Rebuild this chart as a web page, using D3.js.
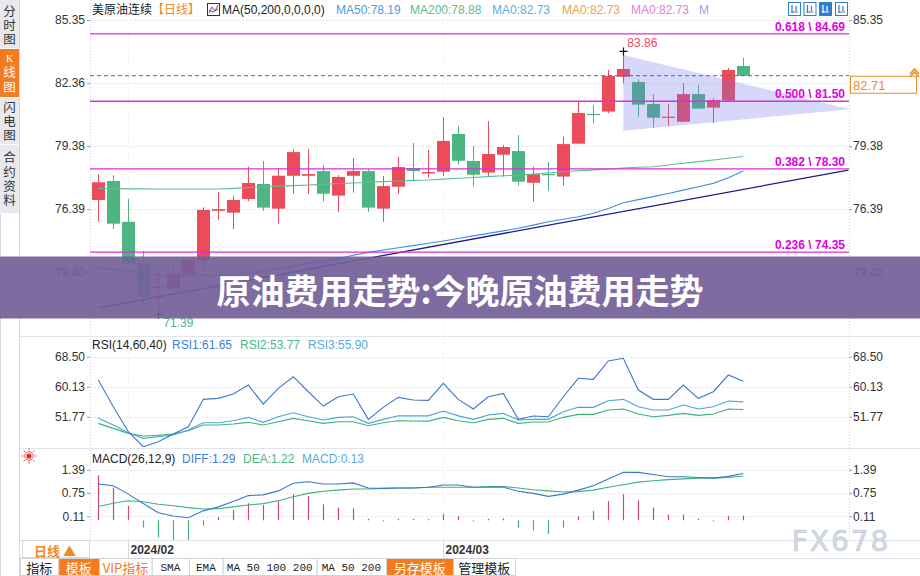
<!DOCTYPE html>
<html>
<head>
<meta charset="utf-8">
<script src="https://cdn.jsdelivr.net/npm/d3@7"></script>
<style>
  body { margin: 0; background: #fff; }
  svg { display: block; font-family: "Liberation Sans", Arial, "Noto Sans CJK SC", sans-serif; }
  .vtab { writing-mode: vertical-rl; text-orientation: upright; }
</style>
</head>
<body>
<div id="chart"></div>
<script>
// trading days shown on the chart
const dates = ["2024-01-30","2024-01-31","2024-02-01","2024-02-02","2024-02-05","2024-02-06","2024-02-07","2024-02-08","2024-02-09",
  "2024-02-12","2024-02-13","2024-02-14","2024-02-15","2024-02-16","2024-02-19","2024-02-20","2024-02-21","2024-02-22","2024-02-23",
  "2024-02-26","2024-02-27","2024-02-28","2024-02-29","2024-03-01","2024-03-04","2024-03-05","2024-03-06","2024-03-07","2024-03-08",
  "2024-03-11","2024-03-12","2024-03-13","2024-03-14","2024-03-15","2024-03-18","2024-03-19","2024-03-20","2024-03-21","2024-03-22",
  "2024-03-25","2024-03-26","2024-03-27","2024-03-28","2024-03-29"];

const opens  = [76.82,77.72,75.79,73.83,72.71,72.63,73.31,73.98,76.31,76.22,76.87,77.58,76.41,77.97,77.97,78.19,77.03,77.97,78.19,76.41,77.45,78.34,
  78.08,78.16,79.95,78.67,78.12,78.97,79.14,77.64,78.05,77.93,79.49,80.90,81.01,82.66,82.41,81.37,80.75,80.53,81.84,81.20,81.53,83.17];
const highs  = [78.05,78.00,76.87,74.40,73.34,73.69,74.10,76.47,77.20,77.01,78.40,78.67,78.35,79.22,79.24,78.48,78.00,78.81,78.29,77.96,78.86,79.52,
  79.19,80.75,80.33,79.38,80.56,79.43,79.90,78.40,78.62,79.82,81.51,81.31,82.98,83.86,82.54,81.84,81.37,82.35,82.27,81.64,83.09,83.56];
const lows   = [75.79,75.44,73.66,71.76,71.39,72.47,73.15,73.50,75.87,75.44,76.77,76.31,75.70,77.12,77.12,76.74,76.25,77.17,76.25,75.79,77.12,77.74,
  77.88,77.97,78.49,77.45,77.93,77.93,77.50,76.74,77.26,77.50,79.49,80.45,80.93,82.35,80.77,80.25,80.33,80.53,81.15,80.48,81.48,82.71];
const closes = [77.66,75.70,73.82,72.24,72.71,73.31,73.98,76.35,76.39,76.82,77.63,76.46,77.97,79.09,78.05,77.12,77.91,78.19,76.46,77.48,78.38,78.19,
  78.15,79.62,78.68,78.02,79.00,79.33,77.69,78.04,78.02,79.47,80.94,80.88,82.70,83.03,81.34,80.72,80.77,81.84,81.15,81.56,82.98,82.71];

const ma50  = [73.58,73.52,73.47,73.36,73.26,73.25,73.25,73.25,73.26,73.30,73.34,73.45,73.58,73.70,73.82,73.93,74.05,74.20,74.34,74.45,74.56,74.66,
  74.77,74.88,75.00,75.12,75.24,75.36,75.48,75.63,75.79,75.91,76.03,76.19,76.42,76.69,76.84,76.98,77.13,77.29,77.45,77.61,77.88,78.19];
const ma200 = [77.37,77.36,77.35,77.35,77.34,77.34,77.34,77.34,77.34,77.37,77.41,77.45,77.48,77.50,77.53,77.56,77.60,77.63,77.66,77.69,77.72,77.75,
  77.77,77.81,77.85,77.89,77.93,77.97,78.00,78.05,78.10,78.16,78.21,78.25,78.29,78.33,78.37,78.40,78.48,78.56,78.64,78.72,78.80,78.88];

const rsi1 = [62.00,54.55,47.57,43.39,44.78,46.93,48.97,56.61,56.89,58.09,60.60,55.30,59.68,62.92,58.73,54.74,57.34,58.09,51.03,54.38,57.17,56.42,
  56.33,61.07,56.61,53.91,57.34,58.28,51.03,51.95,51.76,57.34,62.47,62.19,67.30,68.05,59.21,56.61,56.61,60.60,56.89,58.73,63.39,61.65];
const rsi2 = [49.91,48.52,47.13,46.38,46.57,46.93,47.85,49.44,49.44,49.72,50.20,49.44,50.36,51.31,50.64,49.91,50.36,50.36,49.25,50.08,50.64,50.55,
  50.55,51.59,50.64,50.08,51.03,51.31,49.91,50.28,50.28,51.59,52.42,52.42,53.63,53.91,52.51,51.76,52.14,52.70,52.14,52.51,53.90,53.77];
const rsi3 = [51.31,49.44,47.30,45.73,46.18,46.65,48.05,50.08,50.08,50.64,51.59,50.20,51.76,52.88,51.76,50.84,51.59,51.76,49.91,51.03,52.04,52.00,
  52.00,53.35,52.00,51.03,52.23,52.70,50.84,51.03,51.03,53.15,54.38,54.38,56.23,56.61,54.55,53.63,53.63,55.02,53.91,54.55,56.14,55.90];

const diff = [1.00,0.95,0.72,0.46,0.21,0.12,0.07,0.26,0.37,0.52,0.68,0.70,0.81,1.02,1.06,1.00,1.00,1.03,0.89,0.88,0.89,0.89,
  0.91,0.97,0.97,0.91,0.91,0.91,0.80,0.74,0.66,0.72,0.83,0.95,1.14,1.32,1.32,1.26,1.20,1.20,1.18,1.16,1.21,1.29];
const dea  = [0.38,0.47,0.54,0.51,0.44,0.40,0.35,0.31,0.32,0.37,0.42,0.46,0.54,0.65,0.74,0.80,0.83,0.86,0.86,0.88,0.89,0.89,
  0.91,0.91,0.91,0.91,0.93,0.93,0.89,0.84,0.81,0.78,0.79,0.83,0.91,0.98,1.05,1.09,1.12,1.14,1.16,1.16,1.18,1.22];
const macdHist = [1.24,0.90,0.40,-0.20,-0.47,-0.55,-0.55,-0.15,0.09,0.28,0.47,0.42,0.53,0.72,0.67,0.44,0.35,0.33,0.04,-0.03,0.04,0.04,
  0.03,0.17,0.12,-0.03,0.04,0.05,-0.20,-0.28,-0.37,-0.20,0.11,0.26,0.53,0.72,0.55,0.35,0.16,0.16,0.05,-0.03,0.12,0.13];

const priceTicks = [85.35, 82.36, 79.38, 76.39, 73.40];
const rsiTicks = [68.50, 60.13, 51.77];
const macdTicks = [1.39, 0.75, 0.11];
const monthTicks = ["2024-02-01", "2024-03-01"];
const monthLabels = ["2024/02", "2024/03"];

const fibRatios = ["0.618", "0.500", "0.382", "0.236"];
const fibValues = [84.69, 81.50, 78.30, 74.35];
const lastPrice = 82.71;
// drawn objects: trend line and triangle, as [index, price]
const trendLine = [[0, 71.71], [50, 78.24]];
const triangle = [[35, 83.69], [35, 80.10], [50.1, 81.12]];

const W = 920, H = 576;
const left = 90, right = 849;
const upColor = "#eb4b5a", downColor = "#4db482";

const svg = d3.select("#chart").append("svg")
    .attr("width", W).attr("height", H);

// scales
const x = d3.scaleLinear().domain([0, dates.length - 1]).range([98.3, 743.3]);
const y = d3.scaleLinear().domain([85.35, 73.40]).range([20, 272.2]);
const yR = d3.scaleLinear().domain([68.50, 51.77]).range([356.7, 416.7]);
const yM = d3.scaleLinear().domain([1.39, 0]).range([469.8, 520.3]);

const defs = svg.append("defs");
function clip(id, y0, y1) {
    defs.append("clipPath").attr("id", id).append("rect")
        .attr("x", left).attr("y", y0).attr("width", right - left + 1).attr("height", y1 - y0);
    return "url(#" + id + ")";
}
const clipMain = clip("cMain", 0, 336), clipRsi = clip("cRsi", 337, 447), clipMacd = clip("cMacd", 449, 540);

// ---------- frame ----------
// left sidebar
svg.append("rect").attr("x", 0).attr("y", 0).attr("width", 19).attr("height", 214).attr("fill", "#e7e9ee");
svg.append("line").attr("x1", 19.5).attr("x2", 19.5).attr("y1", 0).attr("y2", H).attr("stroke", "#d3d7de");
svg.append("line").attr("x1", 0.5).attr("x2", 0.5).attr("y1", 214).attr("y2", H).attr("stroke", "#d3d7de");
const tabs = [
    {label: "分时图", y0: 2, y1: 48},
    {label: "K线图", y0: 49, y1: 97, active: true},
    {label: "闪电图", y0: 98, y1: 144},
    {label: "合约资料", y0: 145, y1: 213}
];
tabs.forEach(t => {
    svg.append("rect").attr("x", 0).attr("y", t.y0).attr("width", 19).attr("height", t.y1 - t.y0)
        .attr("fill", t.active ? "#f47b20" : "#e7e9ee");
    svg.append("line").attr("x1", 0).attr("x2", 19).attr("y1", t.y1 + 0.5).attr("y2", t.y1 + 0.5).attr("stroke", "#fafbfc");
    const txt = svg.append("text").attr("class", "vtab")
        .attr("x", 9.5).attr("y", (t.y0 + t.y1) / 2 + 1)
        .attr("text-anchor", "middle")
        .attr("font-family", "Noto Sans CJK SC").attr("font-size", 12.5).attr("letter-spacing", 1.8)
        .attr("fill", t.active ? "#fff" : "#333");
    if (t.label[0] === "K") {
        txt.append("tspan").attr("font-family", "Liberation Serif, serif").attr("font-size", 10).text("K");
        txt.append("tspan").text(t.label.slice(1));
    } else {
        txt.text(t.label);
    }
});

// panel separators
[336, 448, 540, 558].forEach(v => {
    svg.append("line").attr("x1", 20).attr("x2", W).attr("y1", v + 0.5).attr("y2", v + 0.5).attr("stroke", "#e1e5eb");
});

// grid lines
function hgrid(ticks, sc) {
    svg.append("g").selectAll("line").data(ticks).enter().append("line")
        .attr("x1", left).attr("x2", right)
        .attr("y1", d => Math.round(sc(d)) + 0.5).attr("y2", d => Math.round(sc(d)) + 0.5)
        .attr("stroke", "#e4e6ea").attr("stroke-dasharray", "2,2");
}
hgrid(priceTicks, y); hgrid(rsiTicks, yR); hgrid(macdTicks, yM);
svg.append("g").selectAll("line").data(monthTicks).enter().append("line")
    .attr("x1", d => Math.round(x(dates.indexOf(d))) + 0.5).attr("x2", d => Math.round(x(dates.indexOf(d))) + 0.5)
    .attr("y1", 22).attr("y2", 540).attr("stroke", "#eceef1").attr("stroke-dasharray", "2,3");
[left, right].forEach(v => {
    svg.append("line").attr("x1", v + 0.5).attr("x2", v + 0.5).attr("y1", 0).attr("y2", 540)
        .attr("stroke", "#cfd3d9").attr("stroke-dasharray", "1,2");
});

// axes
function axes(ticks, sc, hideRight) {
    const fmt = d3.format(".2f");
    const gl = svg.append("g").attr("transform", "translate(" + left + ",0)")
        .call(d3.axisLeft(sc).tickValues(ticks).tickSize(3).tickPadding(2).tickFormat(fmt));
    const gr = svg.append("g").attr("transform", "translate(" + right + ",0)")
        .call(d3.axisRight(sc).tickValues(ticks.filter(t => !hideRight || !hideRight(t)))
            .tickSize(3).tickPadding(1).tickFormat(fmt));
    [gl, gr].forEach(g => {
        g.select(".domain").remove();
        g.selectAll("line").attr("stroke", "#9aa0a8");
        g.selectAll("text").attr("font-size", 12).attr("fill", "#333").attr("font-family", "Liberation Sans, Arial");
    });
}
// the right price label that sits under the last-price box is hidden
axes(priceTicks, y, t => Math.abs(y(t) - (y(lastPrice) + 9)) < 12);
axes(rsiTicks, yR); axes(macdTicks, yM);

// ---------- main price panel ----------
const main = svg.append("g").attr("clip-path", clipMain);

const candles = main.append("g").selectAll("g").data(dates).enter().append("g");
candles.append("line")
    .attr("x1", (d, i) => Math.round(x(i)) + 0.5).attr("x2", (d, i) => Math.round(x(i)) + 0.5)
    .attr("y1", (d, i) => y(highs[i])).attr("y2", (d, i) => y(lows[i]))
    .attr("stroke", (d, i) => closes[i] >= opens[i] ? upColor : downColor);
candles.append("rect")
    .attr("x", (d, i) => Math.round(x(i)) - 6).attr("width", 13)
    .attr("y", (d, i) => y(Math.max(opens[i], closes[i])))
    .attr("height", (d, i) => Math.max(1.2, Math.abs(y(opens[i]) - y(closes[i]))))
    .attr("fill", (d, i) => closes[i] >= opens[i] ? upColor : downColor);

// triangle drawing (semi-transparent, over the candles)
main.append("path")
    .attr("d", d3.line().x(d => x(d[0])).y(d => y(d[1]))(triangle) + "Z")
    .attr("fill", "#7070ea").attr("fill-opacity", 0.28);

// moving averages
const lineGen = sc => d3.line().x((d, i) => x(i)).y(d => sc(d));
main.append("path").attr("d", lineGen(y)(ma200)).attr("fill", "none").attr("stroke", "#5cbf90").attr("stroke-width", 1.1);
main.append("path").attr("d", lineGen(y)(ma50)).attr("fill", "none").attr("stroke", "#3f8fd8").attr("stroke-width", 1.1);

// trend line
main.append("path")
    .attr("d", d3.line().x(d => x(d[0])).y(d => y(d[1]))(trendLine))
    .attr("fill", "none").attr("stroke", "#1c1c8c").attr("stroke-width", 1.3);

// fibonacci levels
fibValues.forEach((v, i) => {
    main.append("line").attr("x1", left).attr("x2", right)
        .attr("y1", y(v)).attr("y2", y(v)).attr("stroke", "#dd2edd").attr("stroke-width", 1.3);
    svg.append("text").attr("x", 845).attr("y", y(v) - 7)
        .attr("text-anchor", "end").attr("dominant-baseline", "central")
        .attr("font-size", 12).attr("font-weight", "bold").attr("fill", "#e000e0")
        .text(fibRatios[i] + " \\ " + v.toFixed(2));
});

// last price dashed line and label
main.append("line").attr("x1", left).attr("x2", right)
    .attr("y1", y(lastPrice)).attr("y2", y(lastPrice))
    .attr("stroke", "#2f6db5").attr("stroke-dasharray", "4,3");
svg.append("rect").attr("x", 850.5).attr("y", y(lastPrice) + 0.5).attr("width", 66).attr("height", 17)
    .attr("fill", "#fff").attr("stroke", "#f08a24");
svg.append("text").attr("x", 853).attr("y", y(lastPrice) + 9.5).attr("dominant-baseline", "central")
    .attr("font-size", 13).attr("fill", "#f08a24").text(lastPrice.toFixed(2));
svg.append("path").attr("d", "M910,74 L914.5,69 L919,74 M910,77 L914.5,72 L919,77")
    .attr("fill", "none").attr("stroke", "#f08a24").attr("stroke-width", 1.6);

// high / low markers
const hiIdx = highs.indexOf(d3.max(highs)), loIdx = lows.indexOf(d3.min(lows));
function cross(cx, cy) {
    svg.append("path").attr("d", `M${cx - 4},${cy} h8 M${cx},${cy - 4} v8`).attr("stroke", "#111").attr("stroke-width", 1.2);
}
cross(Math.round(x(hiIdx)) + 0.5, y(highs[hiIdx]));
svg.append("text").attr("x", x(hiIdx) + 4).attr("y", y(highs[hiIdx]) - 8).attr("dominant-baseline", "central")
    .attr("font-size", 12).attr("fill", upColor).text(highs[hiIdx].toFixed(2));
cross(Math.round(x(loIdx)) + 0.5, y(lows[loIdx]));
svg.append("text").attr("x", x(loIdx) + 5).attr("y", y(lows[loIdx]) + 8).attr("dominant-baseline", "central")
    .attr("font-size", 12).attr("fill", downColor).text(lows[loIdx].toFixed(2));

// legend row
function legend(items, cy) {
    items.forEach(it => {
        svg.append("text").attr("x", it[0]).attr("y", cy).attr("dominant-baseline", "central")
            .attr("font-size", 12).attr("fill", it[2]).text(it[1]);
    });
}
legend([
    [92, "美原油连续", "#222"], [152, "【日线】", "#f08a24"], [222, "MA(50,200,0,0,0,0)", "#222"],
    [336, "MA50:" + ma50[ma50.length - 1].toFixed(2), "#4a9de0"], [410, "MA200:" + ma200[ma200.length - 1].toFixed(2), "#5cc08a"],
    [492, "MA0:82.73", "#5ab0e0"], [562, "MA0:82.73", "#f0a050"], [631, "MA0:82.73", "#e37fd2"], [699, "M", "#9aa0e8"]
], 10);
svg.append("rect").attr("x", 207.5).attr("y", 3.5).attr("width", 12).attr("height", 12).attr("fill", "#fff").attr("stroke", "#333");
svg.append("path").attr("d", "M209,13 L212,7 L215,11 L218,5").attr("fill", "none").attr("stroke", "#c03060");
svg.append("path").attr("d", "M209,10 L213,12 L218,9").attr("fill", "none").attr("stroke", "#3050c0");
// toolbar icons
[788, 803.5, 819, 835].forEach((v, i) => {
    svg.append("rect").attr("x", v + 0.5).attr("y", 2.5).attr("width", 12).attr("height", 13)
        .attr("fill", i === 2 ? "#2f7fd1" : "#fff").attr("stroke", "#2f7fd1");
    svg.append("path").attr("d", `M${v + 3},${12} h7 M${v + 4},${5} v8 M${v + 8},${6} v5`)
        .attr("stroke", i === 2 ? "#fff" : "#2f7fd1").attr("stroke-width", 1.2);
});

// ---------- RSI panel ----------
const rsiG = svg.append("g").attr("clip-path", clipRsi);
[[rsi2, "#3cb37a"], [rsi3, "#4aa5d6"], [rsi1, "#3a78d0"]].forEach(s => {
    rsiG.append("path").attr("d", lineGen(yR)(s[0])).attr("fill", "none").attr("stroke", s[1]).attr("stroke-width", 1.1);
});
legend([
    [92, "RSI(14,60,40)", "#222"], [172, "RSI1:" + rsi1[rsi1.length - 1].toFixed(2), "#3d7fd6"],
    [240, "RSI2:" + rsi2[rsi2.length - 1].toFixed(2), "#4cb685"], [308, "RSI3:" + rsi3[rsi3.length - 1].toFixed(2), "#5aaad8"]
], 345);

// ---------- MACD panel ----------
const macdG = svg.append("g").attr("clip-path", clipMacd);
macdG.append("g").selectAll("line").data(macdHist).enter().append("line")
    .attr("x1", (d, i) => Math.round(x(i)) + 0.5).attr("x2", (d, i) => Math.round(x(i)) + 0.5)
    .attr("y1", yM(0)).attr("y2", d => yM(d))
    .attr("stroke", d => d >= 0 ? "#d4466a" : "#3cb37a").attr("stroke-width", 1.2);
macdG.append("path").attr("d", lineGen(yM)(dea)).attr("fill", "none").attr("stroke", "#3cb37a").attr("stroke-width", 1.1);
macdG.append("path").attr("d", lineGen(yM)(diff)).attr("fill", "none").attr("stroke", "#3a78d0").attr("stroke-width", 1.1);
legend([
    [92, "MACD(26,12,9)", "#222"], [182, "DIFF:" + diff[diff.length - 1].toFixed(2), "#3d7fd6"],
    [243, "DEA:" + dea[dea.length - 1].toFixed(2), "#4cb685"], [302, "MACD:" + macdHist[macdHist.length - 1].toFixed(2), "#5aaad8"]
], 459);
// small indicator icon
const sun = svg.append("g").attr("transform", "translate(29,456)");
sun.append("circle").attr("r", 2.6).attr("fill", "#e02828");
sun.append("circle").attr("r", 4.2).attr("fill", "none").attr("stroke", "#e02828").attr("stroke-width", 0.8);
d3.range(8).forEach(k => {
    const a = k * Math.PI / 4;
    sun.append("line").attr("x1", Math.cos(a) * 5.5).attr("y1", Math.sin(a) * 5.5)
        .attr("x2", Math.cos(a) * 7.5).attr("y2", Math.sin(a) * 7.5).attr("stroke", "#e02828").attr("stroke-width", 0.9);
});

// ---------- x axis strip ----------
svg.append("rect").attr("x", 22.5).attr("y", 540.5).attr("width", 67).attr("height", 17)
    .attr("fill", "#fff").attr("stroke", "#d6dae0");
svg.append("text").attr("x", 55).attr("y", 550).attr("text-anchor", "middle").attr("dominant-baseline", "central")
    .attr("font-size", 13).attr("font-weight", "bold").attr("fill", "#f08a24")
    .attr("font-family", "Noto Sans CJK SC").text("日线 ▲");
monthTicks.forEach((d, i) => {
    const px = Math.round(x(dates.indexOf(d))) + 0.5;
    svg.append("line").attr("x1", px).attr("x2", px).attr("y1", 540).attr("y2", 558).attr("stroke", "#d6dae0");
    svg.append("text").attr("x", px + 2).attr("y", 549.5).attr("dominant-baseline", "central")
        .attr("font-size", 12).attr("font-weight", "bold").attr("fill", "#333").text(monthLabels[i]);
});

// ---------- bottom toolbar ----------
const buttons = ["指标", "模板", "VIP指标", "SMA", "EMA", "MA 50 100 200", "MA 50 200", "另存模板", "管理模板"];
const btnEdges = [20, 58.3, 99.3, 151.7, 189, 222.7, 316.7, 386, 453.3, 515];
const btnFill = ["#fff", "#f47b20", "#fff", "#fff", "#fff", "#fff", "#fff", "#f47b20", "#fff"];
const btnText = ["#222", "#fff", "#f47b20", "#222", "#222", "#222", "#222", "#fff", "#222"];
buttons.forEach((b, i) => {
    const x0 = btnEdges[i], x1 = btnEdges[i + 1];
    svg.append("rect").attr("x", x0 + 0.5).attr("y", 558.5).attr("width", x1 - x0).attr("height", 17)
        .attr("fill", btnFill[i]).attr("stroke", "#d0d4da");
    const latin = /^[A-Z0-9 ]+$/.test(b);
    svg.append("text").attr("x", (x0 + x1) / 2).attr("y", 567.5)
        .attr("text-anchor", "middle").attr("dominant-baseline", "central")
        .attr("font-family", latin ? "Liberation Mono, monospace" : "Noto Sans CJK SC, sans-serif")
        .attr("font-size", latin ? 11 : 13).attr("fill", btnText[i]).text(b);
});

// watermark
svg.append("text").attr("x", 841).attr("y", 541).attr("text-anchor", "middle").attr("dominant-baseline", "central")
    .attr("font-family", "DejaVu Sans, sans-serif").attr("font-size", 28).attr("letter-spacing", 2)
    .attr("fill", "#d3dae4").attr("stroke", "#bfc8d4").attr("stroke-width", 0.6).text("FX678");

// ---------- title banner ----------
svg.append("rect").attr("x", 0).attr("y", 256.5).attr("width", W).attr("height", 62)
    .attr("fill", "#735f99").attr("fill-opacity", 0.92);
svg.append("text").attr("x", 460).attr("y", 289).attr("text-anchor", "middle").attr("dominant-baseline", "central")
    .attr("font-family", "Noto Sans CJK SC").attr("font-weight", "bold").attr("font-size", 34)
    .attr("fill", "#fff").text("原油费用走势:今晚原油费用走势");
</script>
</body>
</html>
